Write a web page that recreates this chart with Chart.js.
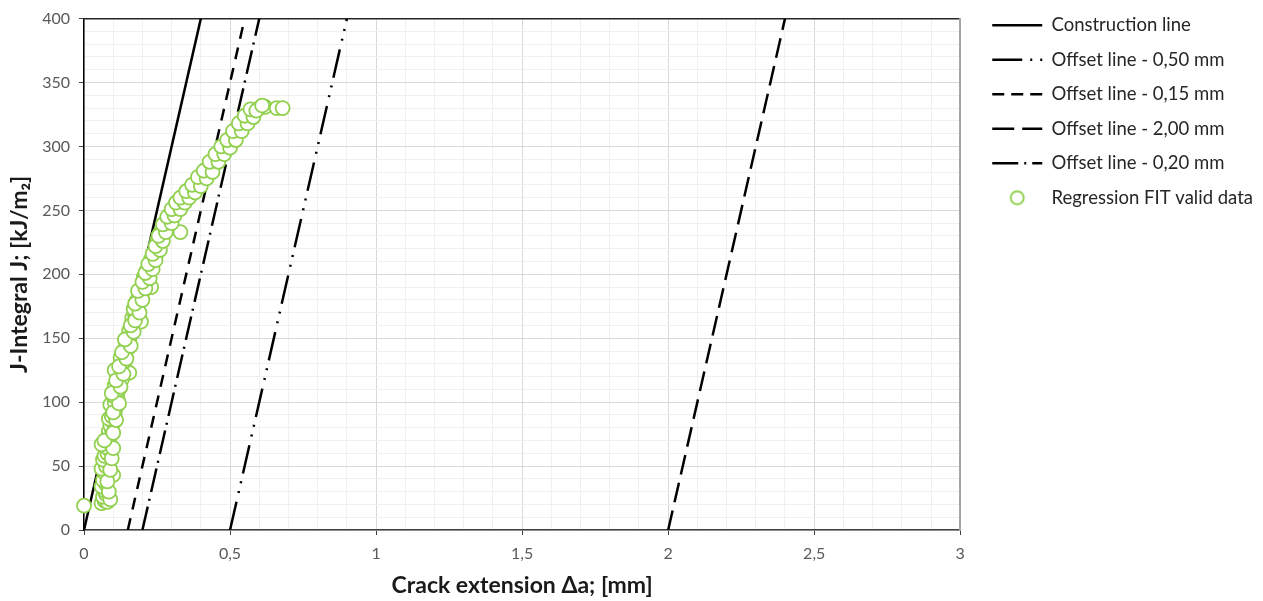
<!DOCTYPE html>
<html>
<head>
<meta charset="utf-8">
<script src="https://cdn.jsdelivr.net/npm/chart.js@4"></script>
<style>
  html, body { margin: 0; padding: 0; background: #ffffff; }
  #wrap { width: 1263px; height: 601px; position: relative; }
</style>
</head>
<body>
<div id="wrap"><canvas id="c" width="1263" height="601"></canvas></div>
<script>
// ---- data ----
const xTickLabels = ['0', '0,5', '1', '1,5', '2', '2,5', '3'];
const yTickLabels = ['0', '50', '100', '150', '200', '250', '300', '350', '400'];

const seriesNames = [
  'Construction line',
  'Offset line - 0,50 mm',
  'Offset line - 0,15 mm',
  'Offset line - 2,00 mm',
  'Offset line - 0,20 mm',
  'Regression FIT valid data'
];

// straight lines: [Δa, J] end points
const constructionLine = [[0, 0], [0.4, 400]];
const offset050 = [[0.5, 0], [0.9, 400]];
const offset015 = [[0.15, 0], [0.544, 394]];
const offset200 = [[2.0, 0], [2.4, 400]];
const offset020 = [[0.2, 0], [0.6, 400]];

// regression fit valid data (Δa in mm, J in kJ/m2)
const fitX = [
  0, 0.06, 0.07, 0.08, 0.065, 0.075, 0.07, 0.06, 0.075, 0.065,
  0.08, 0.1, 0.07, 0.06, 0.075, 0.085, 0.065, 0.07, 0.08, 0.09,
  0.075, 0.06, 0.085, 0.08, 0.09, 0.085, 0.095, 0.09, 0.1, 0.085,
  0.095, 0.105, 0.1, 0.11, 0.09, 0.105, 0.115, 0.1, 0.11, 0.12,
  0.105, 0.12, 0.13, 0.115, 0.155, 0.105, 0.125, 0.13, 0.14, 0.125,
  0.14, 0.135, 0.15, 0.145, 0.155, 0.15, 0.16, 0.155, 0.165, 0.17,
  0.195, 0.165, 0.175, 0.18, 0.17, 0.185, 0.18, 0.195, 0.19, 0.2,
  0.23, 0.205, 0.215, 0.205, 0.22, 0.215, 0.225, 0.235, 0.23, 0.245,
  0.24, 0.25, 0.255, 0.25, 0.265, 0.26, 0.33, 0.275, 0.28, 0.29,
  0.295, 0.3, 0.31, 0.32, 0.33, 0.34, 0.35, 0.36, 0.37, 0.385,
  0.39, 0.4, 0.41, 0.42, 0.425, 0.435, 0.44, 0.45, 0.46, 0.47,
  0.48, 0.49, 0.5, 0.505, 0.51, 0.52, 0.53, 0.54, 0.55, 0.56,
  0.57, 0.58, 0.6, 0.62, 0.66, 0.68,
  0.09, 0.085, 0.08, 0.09, 0.095, 0.1, 0.07, 0.1, 0.11, 0.1,
  0.12, 0.095, 0.125, 0.11, 0.135, 0.12, 0.145, 0.13, 0.16, 0.14,
  0.17, 0.16, 0.175, 0.19, 0.175, 0.2, 0.185, 0.21, 0.2, 0.225,
  0.21, 0.235, 0.22, 0.245, 0.235, 0.26, 0.245, 0.27, 0.255, 0.28,
  0.27, 0.3, 0.285, 0.31, 0.3, 0.33, 0.315, 0.345, 0.33, 0.36,
  0.35, 0.38, 0.37, 0.4, 0.39, 0.42, 0.41, 0.44, 0.43, 0.46,
  0.45, 0.48, 0.47, 0.5, 0.49, 0.52, 0.51, 0.54, 0.53, 0.56,
  0.55, 0.58, 0.57, 0.59, 0.61
];
const fitJ = [
  19, 21, 23, 22, 26, 28, 31, 34, 36, 39,
  41, 43, 45, 48, 50, 52, 55, 58, 60, 62,
  65, 67, 69, 72, 74, 77, 79, 82, 84, 87,
  89, 91, 94, 96, 98, 100, 103, 105, 108, 110,
  113, 115, 118, 120, 123, 125, 127, 130, 132, 135,
  137, 140, 142, 145, 148, 150, 153, 156, 158, 161,
  163, 166, 168, 171, 173, 176, 179, 181, 184, 186,
  190, 192, 195, 198, 200, 203, 206, 209, 212, 214,
  217, 220, 223, 226, 229, 232, 233, 236, 238, 241,
  244, 247, 249, 252, 255, 258, 261, 263, 266, 268,
  271, 274, 276, 279, 282, 284, 287, 290, 292, 295,
  298, 300, 303, 306, 309, 311, 314, 317, 319, 322,
  325, 327, 330, 331, 330, 330,
  24, 30, 38, 47, 56, 64, 70, 76, 86, 92,
  99, 107, 112, 117, 122, 128, 134, 139, 144, 149,
  155, 160, 164, 170, 177, 180, 187, 189, 194, 197,
  201, 204, 208, 211, 216, 219, 222, 226, 230, 233,
  239, 240, 245, 246, 251, 251, 256, 256, 260, 260,
  265, 264, 270, 269, 276, 275, 281, 280, 288, 288,
  294, 294, 300, 299, 305, 305, 312, 312, 318, 318,
  324, 323, 329, 328, 332
];

// ---- helpers ----
const toPts = arr => arr.map(p => ({ x: p[0], y: p[1] }));
const FONT = 'Lato, "Open Sans", "Liberation Sans", sans-serif';

const circleImg = document.createElement('canvas');
circleImg.width = 18; circleImg.height = 18;
(function () {
  const g = circleImg.getContext('2d');
  g.beginPath();
  g.arc(9, 9, 6.5, 0, Math.PI * 2);
  g.fillStyle = '#ffffff';
  g.fill();
  g.lineWidth = 2;
  g.strokeStyle = '#92D050';
  g.stroke();
})();

function lineDs(label, pts, dash, legendDash) {
  return {
    label: label,
    data: toPts(pts),
    showLine: true,
    borderColor: '#000000',
    backgroundColor: '#000000',
    borderWidth: 2.5,
    borderDash: dash,
    legendDash: legendDash,
    borderCapStyle: 'butt',
    pointRadius: 0,
    pointHoverRadius: 0,
    order: 1
  };
}

const datasets = [
  lineDs(seriesNames[0], constructionLine, [], []),
  lineDs(seriesNames[1], offset050, [29, 9, 2, 8, 2, 8], [30, 8, 2, 8, 2, 10]),
  lineDs(seriesNames[2], offset015, [12, 9], [12, 7]),
  lineDs(seriesNames[3], offset200, [20, 8.5], [22, 8]),
  lineDs(seriesNames[4], offset020, [24, 6, 2, 7], [26, 6, 2, 6, 10, 10]),
  {
    label: seriesNames[5],
    data: fitX.map((x, i) => ({ x: x, y: fitJ[i] })),
    showLine: false,
    isFit: true,
    pointStyle: 'circle',
    pointRadius: 7,
    pointHoverRadius: 7,
    pointBorderWidth: 1.8,
    pointBorderColor: '#92D050',
    pointBackgroundColor: '#ffffff',
    borderColor: '#92D050',
    backgroundColor: '#ffffff',
    clip: false,
    order: 0
  }
];

const isMajor = (v, step) => Math.abs(Math.round(v / step) * step - v) < 1e-6;

new Chart(document.getElementById('c'), {
  type: 'scatter',
  data: { datasets: datasets },
  options: {
    responsive: false,
    animation: false,
    layout: { padding: { left: 0, top: 0, right: 0, bottom: 0 } },
    plugins: {
      tooltip: { enabled: false },
      legend: {
        position: 'right',
        align: 'start',
        maxWidth: 400,
        labels: {
          usePointStyle: true,
          pointStyleWidth: 50,
          boxHeight: 18,
          padding: 16,
          color: '#262626',
          font: { family: FONT, size: 18.5 },
          sort: (a, b) => a.datasetIndex - b.datasetIndex,
          generateLabels: (chart) => {
            const items = Chart.defaults.plugins.legend.labels.generateLabels(chart);
            items.forEach(it => {
              const ds = chart.data.datasets[it.datasetIndex];
              if (ds.isFit) {
                it.pointStyle = circleImg;
                it.lineWidth = 0;
              } else {
                it.pointStyle = 'line';
                it.lineWidth = 2.5;
                it.strokeStyle = '#000000';
                it.fillStyle = '#000000';
                it.lineDash = ds.legendDash;
                it.lineCap = 'butt';
              }
            });
            return items;
          }
        }
      }
    },
    scales: {
      x: {
        type: 'linear',
        position: 'bottom',
        min: 0, max: 3,
        afterFit: s => { s.height = 71; },
        ticks: {
          stepSize: 0.1,
          autoSkip: false,
          maxRotation: 0,
          padding: 9,
          color: '#595959',
          font: { family: FONT, size: 16 },
          callback: v => isMajor(v, 0.5) ? xTickLabels[Math.round(v / 0.5)] : ''
        },
        grid: {
          color: c => (c.tick && isMajor(c.tick.value, 0.5)) ? '#d9d9d9' : '#f0f0f0',
          tickColor: c => (c.tick && isMajor(c.tick.value, 0.5)) ? '#404040' : 'rgba(0,0,0,0)',
          tickLength: 5,
          lineWidth: 1
        },
        border: { color: '#404040', width: 1.5 },
        title: {
          display: true,
          text: 'Crack extension Δa; [mm]',
          color: '#1a1a1a',
          font: { family: FONT, size: 23, weight: 'bold' },
          padding: { top: 0, bottom: 2 }
        }
      },
      y: {
        type: 'linear',
        position: 'left',
        min: 0, max: 400,
        afterFit: s => { s.width = 84; },
        ticks: {
          stepSize: 10,
          autoSkip: false,
          padding: 9,
          color: '#595959',
          font: { family: FONT, size: 16 },
          callback: v => isMajor(v, 50) ? yTickLabels[Math.round(v / 50)] : ''
        },
        grid: {
          color: c => (c.tick && isMajor(c.tick.value, 50)) ? '#d9d9d9' : '#f0f0f0',
          tickColor: c => (c.tick && isMajor(c.tick.value, 50)) ? '#404040' : 'rgba(0,0,0,0)',
          tickLength: 5,
          lineWidth: 1
        },
        border: { color: '#000000', width: 1.5 },
        title: {
          display: true,
          text: 'J-Integral J; [kJ/m₂]',
          color: '#1a1a1a',
          font: { family: FONT, size: 23, weight: 'bold' },
          padding: { top: 6, bottom: 0 }
        }
      },
      x2: {
        type: 'linear',
        position: 'top',
        min: 0, max: 3,
        afterFit: s => { s.height = 16; },
        ticks: { display: false },
        grid: { display: false, drawTicks: false },
        border: { color: '#262626', width: 1.5 }
      },
      y2: {
        type: 'linear',
        position: 'right',
        min: 0, max: 400,
        afterFit: s => { s.width = 16; },
        ticks: { display: false },
        grid: { display: false, drawTicks: false },
        border: { color: '#a6a6a6', width: 2 }
      }
    }
  }
});
</script>
</body>
</html>
